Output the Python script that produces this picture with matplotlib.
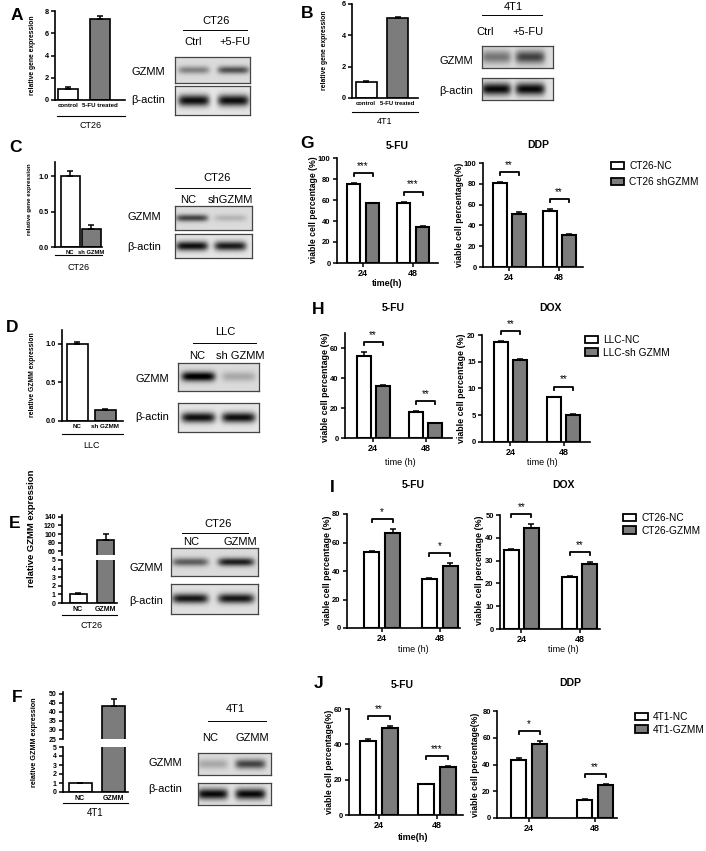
import numpy as np
import matplotlib as mpl
mpl.use('Agg')
import matplotlib.pyplot as plt
from matplotlib.lines import Line2D
from matplotlib.patches import Patch

plt.rcParams['font.family'] = ['Liberation Sans', 'DejaVu Sans']

W, H = 706, 851
GRAY = '#7c7c7c'

# ---------------- data ----------------
# A / B : qPCR, control vs 5-FU treated
ab_names = ['control', '5-FU treated']
a_vals = [1.0, 7.3]
a_err = [0.2, 0.25]
b_vals = [1.0, 5.05]
b_err = [0.05, 0.1]
# C / D : knockdown
sh_names = ['NC', 'sh GZMM']
c_vals = [1.0, 0.26]
c_err = [0.07, 0.05]
d_vals = [1.0, 0.14]
d_err = [0.02, 0.015]
# E / F : overexpression
oe_names = ['NC', 'GZMM']
e_vals = [1.05, 86]
e_err = [0.1, 14]
f_vals = [1.0, 43.5]
f_err = [0.05, 3.5]

# western blot band strength per lane (0 none .. 1 black)
a_gzmm = [0.35, 0.55]
a_actin = [0.85, 0.85]
b_gzmm = [0.4, 0.6]
b_actin = [0.85, 0.85]
c_gzmm = [0.6, 0.15]
c_actin = [0.85, 0.8]
d_gzmm = [0.9, 0.2]
d_actin = [0.85, 0.85]
e_gzmm = [0.5, 0.75]
e_actin = [0.8, 0.8]
f_gzmm = [0.2, 0.6]
f_actin = [0.85, 0.85]

# G-J : viability at 24 / 48 h
times = ['24', '48']
g_fu_nc, g_fu_nc_err = [75, 57.5], [1, 1]
g_fu_sh, g_fu_sh_err = [57, 34], [0.5, 1]
g_ddp_nc, g_ddp_nc_err = [81, 54], [1, 2]
g_ddp_sh, g_ddp_sh_err = [51, 31], [1.5, 0.7]
h_fu_nc, h_fu_nc_err = [54.5, 17.5], [3, 0.5]
h_fu_sh, h_fu_sh_err = [35, 10], [0.5, 0.2]
h_dox_nc, h_dox_nc_err = [18.7, 8.4], [0.2, 0.1]
h_dox_sh, h_dox_sh_err = [15.3, 5.1], [0.2, 0.1]
i_fu_nc, i_fu_nc_err = [53.5, 34.3], [0.5, 0.5]
i_fu_oe, i_fu_oe_err = [67, 43.5], [2.5, 1.8]
i_dox_nc, i_dox_nc_err = [34.7, 22.8], [0.3, 0.4]
i_dox_oe, i_dox_oe_err = [44.2, 28.7], [1.8, 0.6]
j_fu_nc, j_fu_nc_err = [42, 17.3], [0.8, 0.3]
j_fu_oe, j_fu_oe_err = [49.5, 27.3], [1, 0.4]
j_ddp_nc, j_ddp_nc_err = [43, 13.5], [1.5, 0.4]
j_ddp_oe, j_ddp_oe_err = [55.5, 25], [2.2, 0.4]
g_stars = [['***', '***'], ['**', '**']]
h_stars = [['**', '**'], ['**', '**']]
i_stars = [['*', '*'], ['**', '**']]
j_stars = [['**', '***'], ['*', '**']]

fig = plt.figure(figsize=(W / 100, H / 100), dpi=100)


def px_axes(x0, y0, x1, y1):
    return fig.add_axes([x0 / W, 1 - y1 / H, (x1 - x0) / W, (y1 - y0) / H])


def ftext(x, y, s, **kw):
    kw.setdefault('ha', 'center')
    kw.setdefault('va', 'center')
    fig.text(x / W, 1 - y / H, s, **kw)


def fline(x0, x1, y, lw=0.8):
    fig.add_artist(Line2D([x0 / W, x1 / W], [1 - y / H, 1 - y / H], color='k', lw=lw))


def prism(ax, size=6):
    for s in ['top', 'right']:
        ax.spines[s].set_visible(False)
    for s in ['left', 'bottom']:
        ax.spines[s].set_linewidth(1.2)
    ax.tick_params(direction='out', length=3, width=1.1, labelsize=size, pad=1.5)


EB = dict(elinewidth=1.1, capsize=2.5, capthick=1.1, ecolor='k')


def two_bars(ax, vals, errs, w):
    ax.bar([0, 1], vals, w, yerr=[[0, 0], errs], color=['white', GRAY],
           edgecolor='k', linewidth=1.2, error_kw=EB)


def simple_panel(rect, c0, c1, bw, ytop, yticks, vals, errs, names, fmt='{:g}', xs=4.4):
    x0, y0, x1, y1 = rect
    sp = c1 - c0
    ax = px_axes(*rect)
    prism(ax, 5.3)
    two_bars(ax, vals, errs, bw / sp)
    ax.set_xlim((x0 - c0) / sp, (x1 - c0) / sp)
    ax.set_ylim(0, ytop)
    ax.set_yticks(yticks, [fmt.format(t) for t in yticks], fontweight='bold')
    ax.set_xticks([0, 1], names, fontweight='bold', fontsize=xs)
    ax.tick_params(axis='x', length=0, pad=2)
    return ax


def broken_panel(rtop, rbot, c0, c1, bw, top_lim, top_ticks, vals, errs, names):
    sp = c1 - c0
    xl = ((rtop[0] - c0) / sp, (rtop[2] - c0) / sp)
    at = px_axes(*rtop)
    ab = px_axes(*rbot)
    for ax in (at, ab):
        prism(ax, 5)
        two_bars(ax, vals, errs, bw / sp)
        ax.set_xlim(*xl)
    at.spines['bottom'].set_visible(False)
    at.set_xticks([])
    at.set_ylim(*top_lim)
    at.set_yticks(top_ticks, [str(t) for t in top_ticks], fontweight='bold')
    ab.set_ylim(0, 5)
    ab.set_yticks(range(6), [str(t) for t in range(6)], fontweight='bold')
    ab.set_xticks([0, 1], names, fontweight='bold', fontsize=5)
    ab.tick_params(axis='x', length=0, pad=2)


def blot(rect, lanes, strength, sig, bg=0.86):
    ax = px_axes(*rect)
    yy, xx = np.mgrid[0:1:60j, 0:1:160j]
    img = np.full(xx.shape, bg)
    for cx, s in zip(lanes, strength):
        img -= s * np.exp(-((xx - cx) / 0.21) ** 6) * np.exp(-((yy - 0.5) / sig) ** 2)
    ax.imshow(np.clip(img, 0, 1), cmap='gray', vmin=0, vmax=1, aspect='auto',
              extent=[0, 1, 0, 1], interpolation='bilinear')
    ax.set_xticks([])
    ax.set_yticks([])
    for s in ax.spines.values():
        s.set_color('#444444')
        s.set_linewidth(0.9)


def blot_labels(cell, cell_xy, line, lanes_txt, lane_y, gz_xy, ac_xy):
    ftext(cell_xy[0], cell_xy[1], cell, fontsize=8)
    fline(line[0], line[1], line[2], lw=0.7)
    for (x, t) in lanes_txt:
        ftext(x, lane_y, t, fontsize=8)
    ftext(gz_xy[0], gz_xy[1], 'GZMM', fontsize=8)
    ftext(ac_xy[0], ac_xy[1], 'β-actin', fontsize=8)


def group_panel(rect, c24, c48, bw, off, ytop, yticks, a, a_err, b, b_err, stars):
    x0, y0, x1, y1 = rect
    sp = c48 - c24
    ax = px_axes(*rect)
    prism(ax, 5.5)
    pos = np.arange(2)
    ax.bar(pos - off / sp, a, bw / sp, yerr=[[0, 0], a_err], color='white',
           edgecolor='k', linewidth=1.5, error_kw=EB)
    ax.bar(pos + off / sp, b, bw / sp, yerr=[[0, 0], b_err], color=GRAY,
           edgecolor='k', linewidth=1.5, error_kw=EB)
    ax.set_xlim((x0 - c24) / sp, (x1 - c24) / sp)
    ax.set_ylim(0, ytop)
    ax.set_yticks(yticks, [str(t) for t in yticks], fontweight='bold')
    ax.set_xticks(pos, times, fontweight='bold', fontsize=6.5)
    u = ytop / (y1 - y0)
    for i in range(2):
        top = max(a[i] + a_err[i], b[i] + b_err[i]) + 10 * u
        xa, xb = i - off / sp, i + off / sp
        ax.plot([xa, xa, xb, xb], [top - 3 * u, top, top, top - 3 * u], color='k',
                lw=1.3, clip_on=False)
        ax.text(i, top + 4 * u, stars[i], ha='center', va='baseline', fontsize=7,
                clip_on=False)
    return ax


def legend(ax, x, y, labels, spacing):
    handles = [Patch(facecolor='white', edgecolor='k', lw=1.3),
               Patch(facecolor=GRAY, edgecolor='k', lw=1.3)]
    ax.legend(handles, labels, loc='upper left', bbox_to_anchor=(x / W, 1 - y / H),
              bbox_transform=fig.transFigure, frameon=False, fontsize=7.3,
              handlelength=1.3, handleheight=0.8, handletextpad=0.5,
              labelspacing=spacing, borderpad=0, borderaxespad=0)


# ---------------- A ----------------
ftext(17, 16, 'A', fontsize=12.5, fontweight='bold')
simple_panel((55, 11, 125, 100), 68, 99.5, 20, 8, [0, 2, 4, 6, 8], a_vals, a_err, ab_names)
ftext(33, 55, 'relative gene expression', fontsize=4.9, fontweight='bold', rotation=90)
fline(57, 125, 116)
ftext(91, 126, 'CT26', fontsize=6.5)
blot((175, 57, 250, 83), [0.25, 0.78], a_gzmm, 0.15)
blot((175, 86, 250, 115), [0.25, 0.78], a_actin, 0.2, bg=0.9)
blot_labels('CT26', (216, 21), (183, 247, 30), [(193, 'Ctrl'), (235, '+5-FU')], 42,
            (148, 72), (148, 100))

# ---------------- B ----------------
ftext(307, 13, 'B', fontsize=12.5, fontweight='bold')
simple_panel((352, 3.5, 418, 98), 366, 397.5, 21, 6, [0, 2, 4, 6], b_vals, b_err, ab_names,
             xs=4.2)
ftext(325, 50, 'relative gene expression', fontsize=4.9, fontweight='bold', rotation=90)
fline(352, 418, 112)
ftext(385, 122, '4T1', fontsize=6.5)
blot((482, 46, 553, 68), [0.2, 0.68], b_gzmm, 0.3)
blot((482, 78, 553, 100), [0.2, 0.68], b_actin, 0.28, bg=0.88)
blot_labels('4T1', (513, 7), (482, 542, 15), [(485, 'Ctrl'), (528, '+5-FU')], 32,
            (456, 61), (456, 91))

# ---------------- C ----------------
ftext(15, 148, 'C', fontsize=12.5, fontweight='bold')
simple_panel((55, 162, 102, 247), 70, 91, 19, 1.2, [0, 0.5, 1.0], c_vals, c_err,
             sh_names, fmt='{:.1f}', xs=4.2)
ftext(30, 199, 'relative gene expression', fontsize=4.4, fontweight='bold', rotation=90)
fline(55, 102, 255)
ftext(79, 268, 'CT26', fontsize=6.5)
blot((175, 206, 252, 230), [0.22, 0.72], c_gzmm, 0.15)
blot((175, 234, 252, 258), [0.22, 0.72], c_actin, 0.2, bg=0.9)
blot_labels('CT26', (217, 178), (175, 250, 188), [(188, 'NC'), (230, 'shGZMM')], 200,
            (144, 217), (144, 247))

# ---------------- D ----------------
ftext(12, 327, 'D', fontsize=12.5, fontweight='bold')
simple_panel((62, 330, 123, 421), 77, 105, 21, 1.18, [0, 0.5, 1.0], d_vals, d_err,
             sh_names, fmt='{:.1f}', xs=4.5)
ftext(33, 375, 'relative GZMM expression', fontsize=4.9, fontweight='bold', rotation=90)
fline(62, 123, 434)
ftext(92, 446, 'LLC', fontsize=6.5)
blot((178, 363, 259, 391), [0.25, 0.75], d_gzmm, 0.17)
blot((178, 403, 259, 432), [0.25, 0.75], d_actin, 0.18, bg=0.9)
blot_labels('LLC', (225, 332), (193, 256, 343), [(197, 'NC'), (240, 'sh GZMM')], 356,
            (152, 379), (152, 417))

# ---------------- E ----------------
ftext(15, 523, 'E', fontsize=12.5, fontweight='bold')
broken_panel((62, 515, 117, 555), (62, 560, 117, 603), 78, 105.5, 17, (50.6, 144.7),
             [60, 80, 100, 120, 140], e_vals, e_err, oe_names)
ftext(32, 528, 'relative GZMM expression', fontsize=6.8, fontweight='bold', rotation=90)
fline(62, 117, 615)
ftext(92, 626, 'CT26', fontsize=6.5)
blot((171, 548, 258, 576), [0.22, 0.75], e_gzmm, 0.15)
blot((171, 584, 258, 614), [0.22, 0.75], e_actin, 0.16, bg=0.88)
blot_labels('CT26', (218, 524), (182, 248, 533), [(191, 'NC'), (240, 'GZMM')], 542,
            (146, 568), (146, 601))

# ---------------- F ----------------
ftext(17, 698, 'F', fontsize=12.5, fontweight='bold')
broken_panel((63, 692, 128, 739), (63, 747, 128, 792), 80, 113.5, 23, (25, 51.1),
             [25, 30, 35, 40, 45, 50], f_vals, f_err, oe_names)
ftext(35, 742, 'relative GZMM expression', fontsize=5.2, fontweight='bold', rotation=90)
fline(63, 128, 803)
ftext(95, 813, '4T1', fontsize=7)
blot((198, 753, 271, 775), [0.2, 0.72], f_gzmm, 0.22)
blot((198, 783, 271, 805), [0.2, 0.72], f_actin, 0.25, bg=0.88)
blot_labels('4T1', (235, 709), (208, 266, 721), [(210, 'NC'), (252, 'GZMM')], 738,
            (165, 763), (165, 789))

# ---------------- G ----------------
ftext(307, 143, 'G', fontsize=12.5, fontweight='bold')
group_panel((337, 158, 438, 263), 363, 413, 13.5, 9.5, 100, [0, 20, 40, 60, 80, 100],
            g_fu_nc, g_fu_nc_err, g_fu_sh, g_fu_sh_err, g_stars[0])
ax = group_panel((483, 163, 583, 267), 509, 559, 14, 9.5, 100, [0, 20, 40, 60, 80, 100],
                 g_ddp_nc, g_ddp_nc_err, g_ddp_sh, g_ddp_sh_err, g_stars[1])
legend(ax, 611, 161, ['CT26-NC', 'CT26 shGZMM'], 0.6)
ftext(397, 146, '5-FU', fontsize=7.5, fontweight='bold')
ftext(538, 145, 'DDP', fontsize=7.5, fontweight='bold')
ftext(313, 210, 'viable cell percentage (%)', fontsize=6.2, fontweight='bold', rotation=90)
ftext(460, 215, 'viable cell percentage(%)', fontsize=6.2, fontweight='bold', rotation=90)
ftext(387, 283, 'time(h)', fontsize=6.5, fontweight='bold')

# ---------------- H ----------------
ftext(318, 310, 'H', fontsize=12.5, fontweight='bold')
group_panel((345, 333, 452, 438), 373, 425.5, 14, 9.5, 70, [0, 20, 40, 60],
            h_fu_nc, h_fu_nc_err, h_fu_sh, h_fu_sh_err, h_stars[0])
ax = group_panel((482, 335, 590, 442), 510.5, 563.5, 14, 9.5, 20, [0, 5, 10, 15, 20],
                 h_dox_nc, h_dox_nc_err, h_dox_sh, h_dox_sh_err, h_stars[1])
legend(ax, 585, 335, ['LLC-NC', 'LLC-sh GZMM'], 0.25)
ftext(393, 308, '5-FU', fontsize=7.5, fontweight='bold')
ftext(550, 308, 'DOX', fontsize=7.5, fontweight='bold')
ftext(326, 387, 'viable cell percentage (%)', fontsize=6.4, fontweight='bold', rotation=90)
ftext(462, 388, 'viable cell percentage (%)', fontsize=6.4, fontweight='bold', rotation=90)
ftext(400, 462, 'time (h)', fontsize=6.5)
ftext(542, 462, 'time (h)', fontsize=6.5)

# ---------------- I ----------------
ftext(332, 487, 'I', fontsize=12.5, fontweight='bold')
group_panel((347, 514, 460, 628), 382, 439.5, 15, 10.5, 80, [0, 20, 40, 60, 80],
            i_fu_nc, i_fu_nc_err, i_fu_oe, i_fu_oe_err, i_stars[0])
ax = group_panel((500, 515, 600, 629), 521.5, 580, 15, 10, 50, [0, 10, 20, 30, 40, 50],
                 i_dox_nc, i_dox_nc_err, i_dox_oe, i_dox_oe_err, i_stars[1])
legend(ax, 623, 513, ['CT26-NC', 'CT26-GZMM'], 0.25)
ftext(413, 485, '5-FU', fontsize=7.5, fontweight='bold')
ftext(563, 485, 'DOX', fontsize=7.5, fontweight='bold')
ftext(328, 570, 'viable cell percentage (%)', fontsize=6.4, fontweight='bold', rotation=90)
ftext(480, 570, 'viable cell percentage (%)', fontsize=6.4, fontweight='bold', rotation=90)
ftext(413, 650, 'time (h)', fontsize=6.5)
ftext(563, 650, 'time (h)', fontsize=6.5)

# ---------------- J ----------------
ftext(319, 683, 'J', fontsize=12.5, fontweight='bold')
group_panel((349, 709, 463, 815), 379, 437, 16, 11, 60, [0, 20, 40, 60],
            j_fu_nc, j_fu_nc_err, j_fu_oe, j_fu_oe_err, j_stars[0])
ax = group_panel((497, 711, 617, 818), 529, 595, 15, 10.5, 80, [0, 20, 40, 60, 80],
                 j_ddp_nc, j_ddp_nc_err, j_ddp_oe, j_ddp_oe_err, j_stars[1])
legend(ax, 635, 712, ['4T1-NC', '4T1-GZMM'], 0.25)
ftext(402, 685, '5-FU', fontsize=7.5, fontweight='bold')
ftext(570, 683, 'DDP', fontsize=7.5, fontweight='bold')
ftext(330, 762, 'viable cell percentage(%)', fontsize=6.2, fontweight='bold', rotation=90)
ftext(476, 765, 'viable cell percentage(%)', fontsize=6.2, fontweight='bold', rotation=90)
ftext(413, 837, 'time(h)', fontsize=6.5, fontweight='bold')

fig.savefig('out.png', dpi=100)
